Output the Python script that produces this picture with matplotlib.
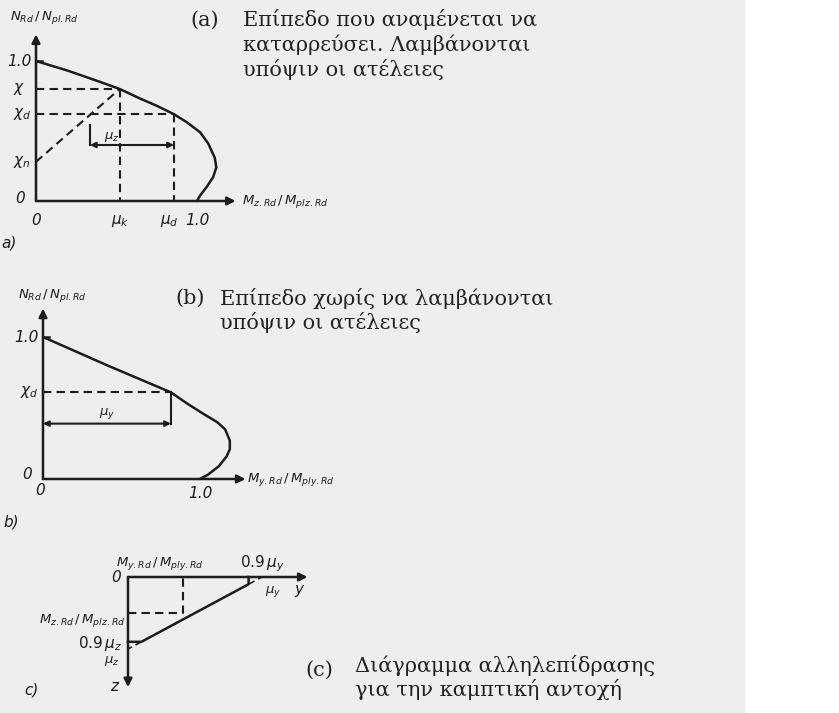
import matplotlib.pyplot as plt
from matplotlib.patches import Rectangle

plt.rcParams['mathtext.fontset'] = 'dejavusans'

# (a) N-M interaction with imperfections
a_curve_m = [0, 0.2, 0.4, 0.52, 0.65, 0.75, 0.857, 0.94, 1.02, 1.07, 1.11, 1.12,
             1.10, 1.06, 1.02, 1.0]
a_curve_n = [1.0, 0.93, 0.85, 0.80, 0.73, 0.68, 0.62, 0.56, 0.49, 0.41, 0.31, 0.24,
             0.17, 0.10, 0.04, 0.0]
chi, chi_d, chi_n = 0.80, 0.62, 0.28
mu_k, mu_d = 0.52, 0.857
a_bracket_n, a_bracket_left = 0.40, 0.335

# (b) N-M interaction without imperfections
b_curve_m = [0, 0.41, 0.815, 0.92, 1.02, 1.11, 1.16, 1.19, 1.19, 1.17, 1.12, 1.05, 1.0]
b_curve_n = [1.0, 0.80, 0.61, 0.53, 0.46, 0.40, 0.35, 0.27, 0.21, 0.16, 0.09, 0.03, 0.0]
b_chi_d, b_mu = 0.61, 0.815
b_bracket_n = 0.39

# (c) biaxial bending interaction (units of mu_y, mu_z)
c_line_y = [0, 0.1, 0.9, 0.9]
c_line_z = [0.9, 0.9, 0.1, 0]
c_box_y, c_box_z = 0.41, 0.5

W, H = 839, 713
ink = '#1c1c1c'
lw = 1.8

fig = plt.figure(figsize=(W / 100, H / 100), dpi=100)
fig.patch.set_facecolor('white')
fig.patches.append(Rectangle((0, 0), 744 / W, 1, transform=fig.transFigure,
                             color='#eeeeee', zorder=-10))


def panel(ox, oy, sx, sy, xlim, ylim, down=False):
    left = ox + xlim[0] * sx
    right = ox + xlim[1] * sx
    if down:
        top, bottom = oy + ylim[0] * sy, oy + ylim[1] * sy
    else:
        top, bottom = oy - ylim[1] * sy, oy - ylim[0] * sy
    ax = fig.add_axes([left / W, 1 - bottom / H, (right - left) / W, (bottom - top) / H])
    ax.set_xlim(xlim)
    ax.set_ylim(ylim[::-1] if down else ylim)
    ax.axis('off')
    return ax


def arrow(ax, start, end, style='-|>', ms=12, lw_=lw):
    ax.annotate('', xy=end, xytext=start,
                arrowprops=dict(arrowstyle=style, color=ink, lw=lw_,
                                mutation_scale=ms, shrinkA=0, shrinkB=0))


def dash(ax, xs, ys, lw_=1.5):
    ax.plot(xs, ys, color=ink, lw=lw_, ls=(0, (4, 2.5)), clip_on=False)


def curve(ax, xs, ys):
    ax.plot(xs, ys, color=ink, lw=lw, clip_on=False,
            solid_joinstyle='round', solid_capstyle='round')


lab = dict(color=ink, fontsize=9.5, style='italic')
tick = dict(color=ink, fontsize=11, style='italic')
greek = dict(color='#222222', fontsize=15, family='DejaVu Serif')

# ---- panel (a)
ax = panel(36, 201, 161, 140, (-0.25, 1.9), (-0.35, 1.35))
arrow(ax, (0, 0), (0, 1.19))
arrow(ax, (0, 0), (1.24, 0))
curve(ax, a_curve_m, a_curve_n)
ax.plot([0, 0.04], [1.0, 1.0], color=ink, lw=lw)
dash(ax, [0, mu_k], [chi, chi])
dash(ax, [mu_k, mu_k], [chi, 0])
dash(ax, [0, mu_d], [chi_d, chi_d])
dash(ax, [mu_d, mu_d], [chi_d, 0])
dash(ax, [0, mu_k], [chi_n, chi])
ax.plot([a_bracket_left, a_bracket_left], [a_bracket_n, 0.54], color=ink, lw=1.5)
arrow(ax, (a_bracket_left, a_bracket_n), (mu_d, a_bracket_n), style='<|-|>', ms=8, lw_=1.5)
ax.text(0.47, 0.46, r'$\mu_z$', ha='center', va='center', **lab)
ax.text(-0.16, 1.31, r'$N_{Rd}\,/\,N_{pl.Rd}$', ha='left', va='center', **lab)
ax.text(-0.03, 1.0, '1.0', ha='right', va='center', **tick)
ax.text(-0.07, chi, r'$\chi$', ha='right', va='center', **tick)
ax.text(-0.03, chi_d, r'$\chi_d$', ha='right', va='center', **tick)
ax.text(-0.03, chi_n, r'$\chi_n$', ha='right', va='center', **tick)
ax.text(-0.07, 0.02, '0', ha='right', va='center', **tick)
ax.text(0.0, -0.14, '0', ha='center', va='center', **tick)
ax.text(mu_k, -0.14, r'$\mu_k$', ha='center', va='center', **tick)
ax.text(0.83, -0.14, r'$\mu_d$', ha='center', va='center', **tick)
ax.text(1.0, -0.14, '1.0', ha='center', va='center', **tick)
ax.text(1.28, 0.0, r'$M_{z.Rd}\,/\,M_{plz.Rd}$', ha='left', va='center', **lab)
ax.text(-0.17, -0.30, 'a)', ha='center', va='center', **tick)

# ---- panel (b)
ax = panel(43, 479, 157, 142, (-0.3, 1.9), (-0.35, 1.35))
arrow(ax, (0, 0), (0, 1.2))
arrow(ax, (0, 0), (1.29, 0))
curve(ax, b_curve_m, b_curve_n)
ax.plot([0, 0.04], [1.0, 1.0], color=ink, lw=lw)
dash(ax, [0, b_mu], [b_chi_d, b_chi_d])
ax.plot([b_mu, b_mu], [b_chi_d, b_bracket_n], color=ink, lw=1.5)
arrow(ax, (0, b_bracket_n), (b_mu, b_bracket_n), style='<|-|>', ms=8, lw_=1.5)
ax.text(0.41, 0.46, r'$\mu_y$', ha='center', va='center', **lab)
ax.text(-0.16, 1.29, r'$N_{Rd}\,/\,N_{pl.Rd}$', ha='left', va='center', **lab)
ax.text(-0.03, 1.0, '1.0', ha='right', va='center', **tick)
ax.text(-0.03, b_chi_d, r'$\chi_d$', ha='right', va='center', **tick)
ax.text(-0.07, 0.03, '0', ha='right', va='center', **tick)
ax.text(-0.02, -0.08, '0', ha='center', va='center', **tick)
ax.text(1.0, -0.1, '1.0', ha='center', va='center', **tick)
ax.text(1.3, 0.0, r'$M_{y.Rd}\,/\,M_{ply.Rd}$', ha='left', va='center', **lab)
ax.text(-0.2, -0.3, 'b)', ha='center', va='center', **tick)

# ---- panel (c)
ax = panel(128, 577, 134, 72, (-0.8, 1.6), (-0.35, 1.7), down=True)
arrow(ax, (0, 0), (1.34, 0))
arrow(ax, (0, 0), (0, 1.53))
ax.plot(c_line_y, c_line_z, color=ink, lw=lw, clip_on=False)
dash(ax, [c_line_y[1], 0], [c_line_z[1], 1.0], lw_=1.2)
dash(ax, [c_line_y[2], 1.0], [c_line_z[2], 0], lw_=1.2)
dash(ax, [0, c_box_y, c_box_y], [c_box_z, c_box_z, 0])
ax.text(0.24, -0.19, r'$M_{y.Rd}\,/\,M_{ply.Rd}$', ha='center', va='center', **lab)
ax.text(1.0, -0.19, r'$0.9\,\mu_y$', ha='center', va='center', **tick)
ax.text(-0.05, 0.0, '0', ha='right', va='center', **tick)
ax.text(1.08, 0.2, r'$\mu_y$', ha='center', va='center', **lab)
ax.text(1.28, 0.2, r'$y$', ha='center', va='center', **tick)
ax.text(-0.02, 0.6, r'$M_{z.Rd}\,/\,M_{plz.Rd}$', ha='right', va='center', **lab)
ax.text(-0.04, 0.92, r'$0.9\,\mu_z$', ha='right', va='center', **tick)
ax.text(-0.06, 1.17, r'$\mu_z$', ha='right', va='center', **lab)
ax.text(-0.06, 1.52, r'$z$', ha='right', va='center', **tick)
ax.text(-0.72, 1.57, 'c)', ha='center', va='center', **tick)

# captions
fig.text(190 / W, 1 - 20 / H, '(a)', ha='left', va='center', **greek)
fig.text(243 / W, 1 - 20 / H, 'Επίπεδο που αναμένεται να', ha='left', va='center', **greek)
fig.text(243 / W, 1 - 45 / H, 'καταρρεύσει. Λαμβάνονται', ha='left', va='center', **greek)
fig.text(243 / W, 1 - 70 / H, 'υπόψιν οι ατέλειες', ha='left', va='center', **greek)
fig.text(175 / W, 1 - 298 / H, '(b)', ha='left', va='center', **greek)
fig.text(220 / W, 1 - 298 / H, 'Επίπεδο χωρίς να λαμβάνονται', ha='left', va='center', **greek)
fig.text(220 / W, 1 - 322 / H, 'υπόψιν οι ατέλειες', ha='left', va='center', **greek)
fig.text(305 / W, 1 - 670 / H, '(c)', ha='left', va='center', **greek)
fig.text(355 / W, 1 - 665 / H, 'Διάγραμμα αλληλεπίδρασης', ha='left', va='center', **greek)
fig.text(355 / W, 1 - 690 / H, 'για την καμπτική αντοχή', ha='left', va='center', **greek)

fig.savefig('out.png', dpi=100)
